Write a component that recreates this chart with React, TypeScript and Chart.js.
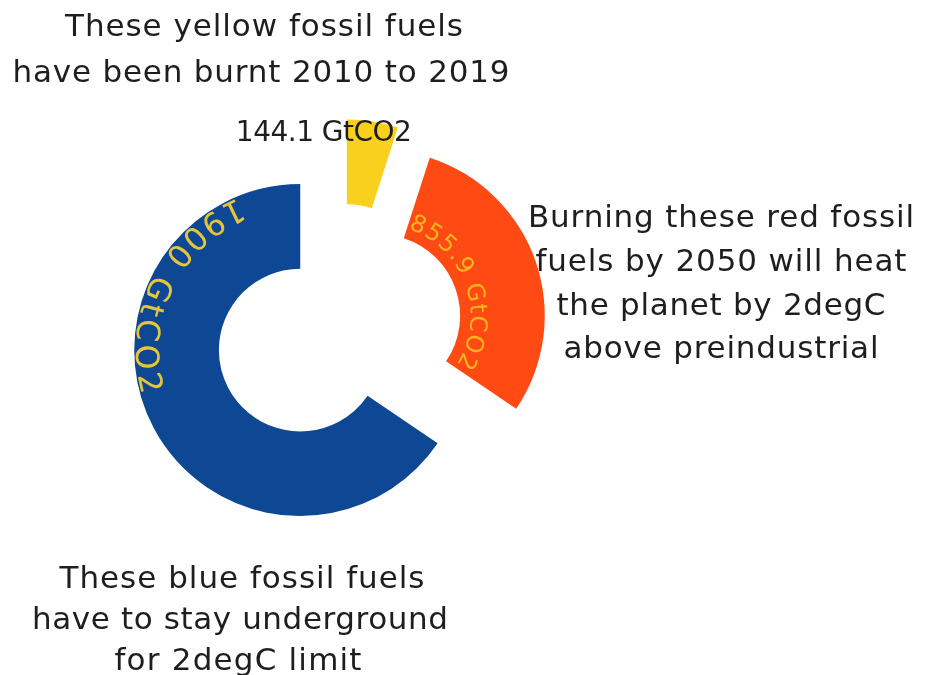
import React, { useEffect, useRef } from "react";
import { Chart, registerables } from "chart.js";

Chart.register(...registerables);

// ---- data ----
const categories = ["Burnt 2010 to 2019", "Burnt by 2050 (2degC)", "Stay underground"];
const values = [144.1, 855.9, 1900];
const valueLabels = ["144.1 GtCO2", "855.9 GtCO2", "1900 GtCO2"];
const sliceColors = ["#F9D01E", "#FF4A14", "#0E4894"];
const labelColors = ["#1E1E1E", "#FFB31E", "#E6C53A"];
const explodePx = [44, 41, 45];

const topNote = ["These yellow fossil fuels", "have been burnt 2010 to 2019"];
const rightNote = [
  "Burning these red fossil",
  "fuels by 2050 will heat",
  "the planet by 2degC",
  "above preindustrial",
];
const bottomNote = ["These blue fossil fuels", "have to stay underground", "for 2degC limit"];

const FONT = '"Comic Sans MS", "DejaVu Sans", sans-serif';

function arcShift(arc: any, d: number) {
  const mid = (arc.startAngle + arc.endAngle) / 2;
  return [Math.cos(mid) * d, Math.sin(mid) * d];
}

function drawLine(ctx: CanvasRenderingContext2D, text: string, cx: number, baseline: number, size: number, targetWidth: number, color: string) {
  ctx.save();
  ctx.font = `${size}px ${FONT}`;
  (ctx as any).letterSpacing = "0px";
  const w = ctx.measureText(text).width;
  const ls = text.length > 1 ? (targetWidth - w) / (text.length - 1) : 0;
  (ctx as any).letterSpacing = `${ls}px`;
  ctx.textAlign = "left";
  ctx.textBaseline = "alphabetic";
  ctx.fillStyle = color;
  ctx.fillText(text, cx - targetWidth / 2, baseline);
  ctx.restore();
}

function drawArcText(
  ctx: CanvasRenderingContext2D,
  text: string,
  cx: number,
  cy: number,
  r: number,
  startClockDeg: number,
  endClockDeg: number,
  size: number,
  color: string,
  topsOutward: boolean
) {
  ctx.save();
  ctx.font = `${size}px ${FONT}`;
  (ctx as any).letterSpacing = "0px";
  const chars = [...text];
  const widths = chars.map((c) => ctx.measureText(c).width);
  const total = widths.reduce((a, b) => a + b, 0);
  const arcLen = ((Math.abs(endClockDeg - startClockDeg) * Math.PI) / 180) * r;
  const gap = chars.length > 1 ? (arcLen - total) / (chars.length - 1) : 0;
  ctx.fillStyle = color;
  ctx.textAlign = "center";
  ctx.textBaseline = "middle";
  let pos = 0;
  const start = (startClockDeg * Math.PI) / 180;
  chars.forEach((ch, i) => {
    const a = (pos + widths[i] / 2) / r;
    const clock = topsOutward ? start + a : start - a;
    const ang = clock - Math.PI / 2;
    ctx.save();
    ctx.translate(cx + r * Math.cos(ang), cy + r * Math.sin(ang));
    ctx.rotate(topsOutward ? ang + Math.PI / 2 : ang - Math.PI / 2);
    ctx.fillText(ch, 0, 0);
    ctx.restore();
    pos += widths[i] + gap;
  });
  ctx.restore();
}

const explodePlugin = {
  id: "explodeSlices",
  beforeDatasetDraw(chart: any, args: any) {
    const ctx = chart.ctx;
    args.meta.data.forEach((arc: any, i: number) => {
      const [dx, dy] = arcShift(arc, explodePx[i]);
      ctx.save();
      ctx.translate(dx, dy);
      arc.draw(ctx);
      ctx.restore();
    });
    return false;
  },
};

const labelPlugin = {
  id: "sliceLabels",
  afterDraw(chart: any) {
    const ctx: CanvasRenderingContext2D = chart.ctx;
    const arcs = chart.getDatasetMeta(0).data;

    // yellow slice label (horizontal, above the slice)
    {
      const arc = arcs[0];
      const [dx, dy] = arcShift(arc, explodePx[0]);
      const cx = arc.x + dx;
      const cy = arc.y + dy;
      drawLine(ctx, valueLabels[0], cx - 23, cy - arc.outerRadius + 21, 28, 176, labelColors[0]);
    }
    // red slice label (curved, tops outward)
    {
      const arc = arcs[1];
      const [dx, dy] = arcShift(arc, explodePx[1]);
      const midClock = (((arc.startAngle + arc.endAngle) / 2 + Math.PI / 2) * 180) / Math.PI;
      drawArcText(ctx, valueLabels[1], arc.x + dx, arc.y + dy, 98, midClock - 52, midClock + 51, 24, labelColors[1], true);
    }
    // blue slice label (curved, tops inward)
    {
      const arc = arcs[2];
      const [dx, dy] = arcShift(arc, explodePx[2]);
      drawArcText(ctx, valueLabels[2], arc.x + dx, arc.y + dy, 156, 338, 254, 32, labelColors[2], false);
    }

    // notes
    const ink = "#1E1E1E";
    drawLine(ctx, topNote[0], 264, 36, 31, 398, ink);
    drawLine(ctx, topNote[1], 261, 82, 31, 497, ink);

    const rightW = [386, 371, 329, 315];
    const rightB = [227, 271, 315, 358];
    rightNote.forEach((t, i) => drawLine(ctx, t, 721, rightB[i], 31, rightW[i], ink));

    const bottomW = [365, 416, 247];
    const bottomB = [588, 629, 670];
    const bottomX = [242, 240, 238];
    bottomNote.forEach((t, i) => drawLine(ctx, t, bottomX[i], bottomB[i], 31, bottomW[i], ink));
  },
};

export default function App() {
  const canvasRef = useRef<HTMLCanvasElement | null>(null);

  useEffect(() => {
    const canvas = canvasRef.current;
    if (!canvas) return;
    const chart = new Chart(canvas, {
      type: "doughnut",
      data: {
        labels: categories,
        datasets: [
          {
            data: values,
            backgroundColor: sliceColors,
            borderWidth: 0,
          },
        ],
      },
      options: {
        responsive: false,
        animation: false,
        events: [],
        radius: 166,
        cutout: "49%",
        rotation: 0,
        layout: { padding: { left: 0, right: 247, top: 0, bottom: 17 } },
        plugins: {
          legend: { display: false },
          tooltip: { enabled: false },
        },
      },
      plugins: [explodePlugin, labelPlugin],
    });
    return () => chart.destroy();
  }, []);

  return (
    <div style={{ position: "fixed", left: 0, top: 0, width: 927, height: 675, background: "#ffffff" }}>
      <canvas ref={canvasRef} width={927} height={675} style={{ display: "block", width: 927, height: 675 }} />
    </div>
  );
}
